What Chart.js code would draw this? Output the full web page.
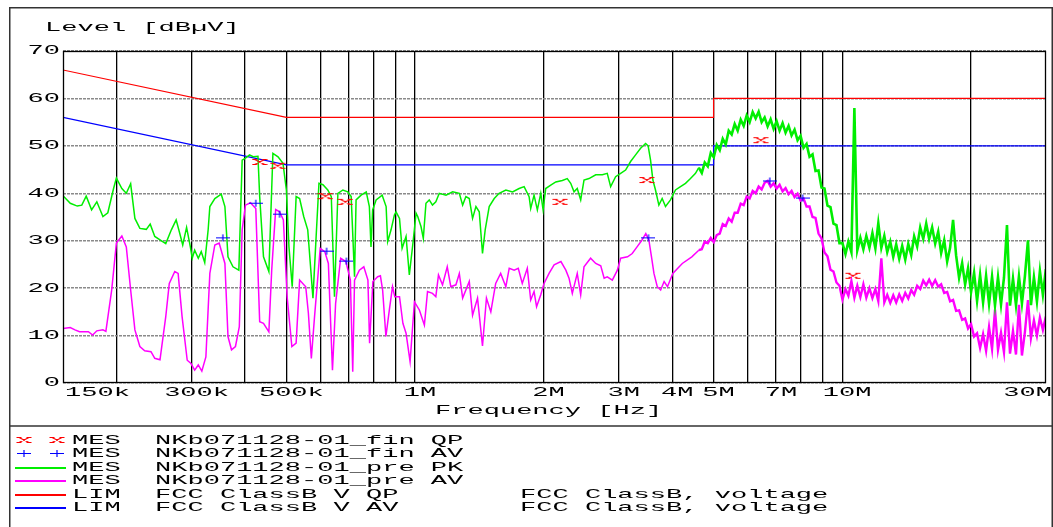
<!DOCTYPE html>
<html><head><meta charset="utf-8">
<script src="https://cdn.jsdelivr.net/npm/chart.js@4.4.1/dist/chart.umd.min.js"></script>
<style>html,body{margin:0;padding:0;background:#fff;}canvas{display:block;}</style>
</head><body>
<canvas id="c" width="1053" height="527"></canvas>
<script>
// ---------- DATA (frequency in MHz, level in dBµV) ----------
const yTicks = [0, 10, 20, 30, 40, 50, 60, 70];
const xGridValues = [0.2,0.3,0.4,0.5,0.6,0.7,0.8,0.9,1,2,3,4,5,6,7,8,9,10,20];
const xTickValues = [0.15, 0.3, 0.5, 1, 2, 3, 4, 5, 7, 10, 30];
const xTickLabels = ['150k','300k','500k','1M','2M','3M','4M','5M','7M','10M','30M'];

// Peak (pre PK) scan, low range
const pkFreqLo = [0.150,0.156,0.162,0.166,0.170,0.175,0.180,0.186,0.191,0.197,
0.200,0.206,0.211,0.216,0.221,0.227,0.235,0.240,0.246,0.253,
0.261,0.269,0.276,0.280,0.286,0.292,0.298,0.301,0.305,0.311,
0.316,0.322,0.328,0.331,0.340,0.352,0.359,0.365,0.375,0.387,
0.394,0.401,0.410,0.418,0.429,0.433,0.442,0.455,0.465,0.478,
0.491,0.500,0.507,0.516,0.527,0.537,0.549,0.561,0.577,0.587,
0.596,0.609,0.625,0.637,0.648,0.660,0.678,0.696,0.709,0.722,
0.728,0.748,0.769,0.782,0.789,0.796,0.811,0.838,0.856,0.863,
0.879,0.895,0.903,0.920,0.933,0.953,0.970,0.988,1.006,1.015,
1.033,1.046,1.061,1.080,1.099,1.119,1.140,1.182,1.225,1.270,
1.293,1.316,1.340,1.364,1.389,1.414,1.439,1.460,1.492,1.533,
1.574,1.632,1.692,1.753,1.801,1.850,1.866,1.900,1.934,1.970,
1.995,2.023,2.079,2.136,2.213,2.272,2.315,2.357,2.398,2.443,
2.487,2.555,2.649,2.745,2.819,2.871,2.949,3.030,3.112,3.197,
3.284,3.374,3.466,3.514,3.560,3.605,3.656,3.723,3.790,3.859,
3.964,4.072,4.184,4.298,4.415,4.536];
const pkLevelLo = [39.5,37.9,37.3,37.5,39.4,36.5,38.2,35.1,35.9,41.0,
43.2,41.0,40.0,42.0,34.7,32.6,32.4,33.5,30.9,30.2,
29.4,32.3,34.4,32.3,29.1,32.8,28.7,26.3,28.0,26.3,
27.7,25.4,32.3,37.2,38.9,39.8,37.2,26.6,24.5,23.8,
47.0,47.4,48.1,47.7,47.8,39.3,26.6,23.5,48.4,47.7,
46.3,40.7,28.7,20.3,39.3,38.9,35.1,32.3,17.9,30.9,
42.1,41.8,40.7,39.3,18.2,40.0,40.7,40.3,39.3,22.4,
38.6,39.6,40.3,37.2,28.7,36.5,38.6,39.6,37.2,29.8,
32.3,35.4,36.1,34.7,28.4,30.9,22.8,29.1,35.8,35.1,
33.0,30.5,37.9,38.6,37.5,38.2,40.0,39.6,40.3,40.0,
37.5,39.3,38.9,34.7,37.2,36.1,27.3,32.3,37.2,38.9,
40.0,40.7,40.3,41.0,41.4,39.3,36.8,39.6,36.5,40.0,
36.5,41.0,41.7,42.4,42.7,43.1,42.1,40.3,41.0,38.6,
42.8,43.1,43.9,43.9,44.2,41.4,43.5,44.2,44.9,46.7,
48.1,49.5,50.5,50.0,47.0,42.8,40.7,37.5,38.9,37.2,
38.6,40.7,41.4,42.1,43.1,44.2];

// Average (pre AV) scan, low range
const avFreqLo = [0.150,0.156,0.160,0.164,0.172,0.176,0.180,0.186,0.189,0.195,
0.200,0.206,0.211,0.216,0.221,0.227,0.233,0.241,0.246,0.253,
0.261,0.266,0.274,0.279,0.285,0.293,0.299,0.305,0.311,0.317,
0.324,0.331,0.340,0.348,0.359,0.365,0.372,0.380,0.388,0.394,
0.401,0.412,0.424,0.433,0.442,0.455,0.462,0.472,0.482,0.492,
0.502,0.515,0.527,0.537,0.555,0.563,0.572,0.582,0.600,0.615,
0.627,0.641,0.652,0.670,0.689,0.706,0.715,0.722,0.741,0.759,
0.776,0.783,0.797,0.818,0.830,0.840,0.855,0.871,0.886,0.897,
0.920,0.937,0.953,0.974,0.997,1.024,1.052,1.070,1.099,1.119,
1.135,1.160,1.190,1.213,1.247,1.270,1.293,1.340,1.364,1.401,
1.439,1.470,1.505,1.545,1.587,1.632,1.662,1.707,1.745,1.783,
1.832,1.866,1.900,1.926,1.970,2.005,2.060,2.117,2.196,2.255,
2.294,2.335,2.398,2.443,2.487,2.577,2.649,2.722,2.772,2.819,
2.897,2.977,3.030,3.145,3.225,3.310,3.397,3.470,3.528,3.578,
3.626,3.691,3.759,3.830,3.900,4.014,4.224,4.447];
const avLevelLo = [11.5,11.7,11.2,10.8,10.8,10.1,11.0,11.2,10.9,19.6,
29.5,31.0,28.7,19.6,11.2,7.7,6.8,6.6,5.2,4.9,
14.0,21.0,23.5,23.1,14.0,4.8,4.1,2.7,3.8,2.5,
5.5,23.1,29.1,29.5,25.2,9.8,7.0,7.7,11.9,32.3,
37.5,38.0,36.8,12.9,12.6,10.8,23.8,36.6,36.1,34.4,
18.2,7.7,8.4,21.7,20.3,14.7,5.2,14.0,28.4,27.7,
25.2,2.7,16.8,26.3,25.6,21.7,2.4,21.7,23.8,24.5,
21.7,8.4,21.4,22.4,22.6,19.6,9.8,15.4,20.3,18.2,
18.2,12.6,10.5,4.5,17.1,15.4,12.2,19.3,18.9,18.2,
22.8,20.7,24.5,20.3,20.7,23.1,17.9,21.4,14.3,17.9,
7.8,17.9,15.0,21.0,23.1,20.3,24.2,23.8,24.2,21.0,
24.2,17.5,19.3,16.1,18.6,21.0,23.1,24.9,25.6,23.8,
22.1,18.9,23.1,18.6,24.5,26.3,25.2,24.7,22.1,22.4,
21.7,23.8,26.3,26.6,27.3,28.7,30.1,31.5,30.1,26.6,
23.1,20.3,19.6,21.4,20.3,23.1,25.2,26.6];

// Shared dense scan frequencies, high range
const scanFreqHi = [4.617,4.692,4.768,4.846,4.925,5.005,5.086,5.169,5.253,5.338,
5.425,5.513,5.603,5.694,5.787,5.881,5.977,6.074,6.173,6.273,
6.375,6.479,6.584,6.691,6.800,6.911,7.023,7.137,7.253,7.371,
7.491,7.613,7.737,7.863,7.991,8.121,8.253,8.387,8.523,8.662,
8.803,8.946,9.091,9.239,9.389,9.542,9.697,9.855,10.015,10.18,
10.34,10.51,10.68,10.85,11.03,11.21,11.39,11.58,11.77,11.96,
12.15,12.35,12.55,12.75,12.96,13.17,13.38,13.60,13.82,14.05,
14.28,14.51,14.74,14.98,15.23,15.48,15.73,15.98,16.24,16.51,
16.78,17.05,17.33,17.61,17.89,18.18,18.48,18.78,19.09,19.40,
19.71,20.03,20.36,20.69,21.03,21.37,21.72,22.07,22.43,22.79,
23.16,23.54,23.92,24.31,24.71,25.11,25.52,25.93,26.35,26.78,
27.22,27.66,28.11,28.57,29.03,29.50,29.98];
const pkLevelHi = [45.4,44.3,46.5,45.7,48.5,47.6,50.2,49.1,51.5,50.3,
53.2,52.4,54.6,53.2,55.5,54.2,56.4,55.0,57.1,55.8,
57.2,55.0,56.0,54.1,55.6,53.6,55.2,53.2,54.8,52.8,
54.2,52.2,53.4,51.2,52.1,49.6,50.4,47.7,48.2,44.7,
44.8,41.2,41.0,37.4,37.1,33.6,33.3,29.5,29.5,27.2,
29.8,27.6,58.0,28.0,30.6,28.2,31.0,28.5,31.6,28.4,
33.7,28.5,31.0,27.6,29.8,26.6,29.2,26.2,28.9,26.0,
29.3,27.0,30.9,28.8,32.8,30.4,33.6,30.4,32.8,29.4,
31.9,27.4,30.1,25.6,28.5,34.4,26.9,22.2,25.3,20.8,
24.2,19.2,23.2,17.3,22.8,17.0,22.6,16.7,22.4,16.4,
22.3,16.6,22.2,33.3,16.3,22.0,16.4,22.5,16.8,22.6,
30.1,16.4,22.3,17.2,23.6,18.6,24.0];
const avLevelHi = [28.0,28.2,29.8,29.5,30.6,29.7,31.2,31.5,33.5,33.1,
34.7,34.0,35.9,35.9,37.8,37.5,39.3,38.9,40.5,40.0,
41.4,40.8,42.2,42.6,41.4,42.1,41.0,41.8,40.4,41.1,
39.8,40.5,39.2,39.9,38.5,38.9,37.2,37.2,35.0,34.8,
31.5,30.5,27.5,26.7,23.9,23.5,21.2,20.5,17.6,19.8,
18.4,21.5,18.0,20.5,18.1,20.8,18.0,20.0,17.9,19.8,
17.3,26.3,17.0,18.6,16.9,18.5,17.0,18.7,17.3,19.0,
17.8,19.6,18.6,20.5,19.8,21.6,20.6,21.8,20.5,21.7,
20.3,20.8,19.0,19.2,17.2,17.5,15.2,15.3,13.3,13.6,
11.5,12.4,9.8,10.5,7.4,10.3,6.8,11.8,7.2,15.5,
7.0,10.6,6.5,17.0,6.2,11.0,6.0,16.5,5.8,10.8,
17.5,9.5,13.2,10.0,13.8,11.2,14.0];

// Final measurements
const qpFreq  = [0.433, 0.477, 0.617, 0.687, 2.186, 3.49, 6.45, 10.6];
const qpLevel = [46.6, 45.8, 39.4, 38.2, 38.2, 42.8, 51.2, 22.6];
const avmFreq  = [0.355, 0.424, 0.482, 0.621, 0.691, 3.52, 6.77, 8.08];
const avmLevel = [30.6, 37.9, 35.6, 27.8, 25.7, 30.6, 42.6, 39.0];

// Limits
const limQpFreq  = [0.15, 0.5, 5, 5, 30];
const limQpLevel = [66, 56, 56, 60, 60];
const limAvFreq  = [0.15, 0.5, 5, 5, 30];
const limAvLevel = [56, 46, 46, 50, 50];

// Legend text
const legendTags  = ['MES','MES','MES','MES','LIM','LIM'];
const legendNames = ['NKb071128-01_fin QP','NKb071128-01_fin AV','NKb071128-01_pre PK','NKb071128-01_pre AV','FCC ClassB V QP','FCC ClassB V AV'];
const legendDesc  = ['','','','','FCC ClassB, voltage','FCC ClassB, voltage'];

// ---------- helpers ----------
const pts = (xs, ys) => xs.map((x, i) => ({x: x, y: ys[i]}));
const RED = '#ff0000', BLUE = '#0000ff', GREEN = '#00ee00', MAGENTA = '#ff00ff';
const DENSE_FROM = 4.6; // MHz: dense-scan part is drawn with a heavier pen

function makeQpImg() {
  const c = document.createElement('canvas'); c.width = 16; c.height = 8;
  const g = c.getContext('2d'); g.strokeStyle = RED; g.lineWidth = 1.1;
  g.beginPath();
  g.moveTo(3, 1.5); g.lineTo(13, 6.5); g.moveTo(3, 6.5); g.lineTo(13, 1.5);
  g.moveTo(0.5, 1.5); g.lineTo(5.5, 1.5); g.moveTo(10.5, 1.5); g.lineTo(15.5, 1.5);
  g.moveTo(0.5, 6.5); g.lineTo(5.5, 6.5); g.moveTo(10.5, 6.5); g.lineTo(15.5, 6.5);
  g.stroke(); return c;
}
function makeAvImg() {
  const c = document.createElement('canvas'); c.width = 14; c.height = 9;
  const g = c.getContext('2d'); g.strokeStyle = BLUE; g.lineWidth = 1.2;
  g.beginPath(); g.moveTo(0, 4.5); g.lineTo(14, 4.5); g.moveTo(7, 1); g.lineTo(7, 8); g.stroke();
  return c;
}
const qpImg = makeQpImg(), avImg = makeAvImg();

const SX = 2.08;
const FONT = '13px "Liberation Mono", "DejaVu Sans Mono", monospace';
function stretchText(ctx, s, x, y, align) {
  ctx.save();
  ctx.font = FONT; ctx.textBaseline = 'middle'; ctx.textAlign = 'left'; ctx.fillStyle = '#000';
  const w = ctx.measureText(s).width * SX;
  const x0 = align === 'right' ? x - w : align === 'center' ? x - w / 2 : x;
  ctx.translate(x0, y); ctx.scale(SX, 1); ctx.fillText(s, 0, 0);
  ctx.restore();
  return w;
}
function textWidth(ctx, s) { ctx.save(); ctx.font = FONT; const w = ctx.measureText(s).width * SX; ctx.restore(); return w; }

const decor = {
  id: 'decor',
  afterDatasetsDraw(chart) {
    const ctx = chart.ctx, a = chart.chartArea;
    ctx.save();
    ctx.strokeStyle = '#000'; ctx.lineWidth = 1.3;
    ctx.strokeRect(a.left + 0.5, a.top + 0.5, a.right - a.left - 1, a.bottom - a.top - 1);
    ctx.restore();
  },
  afterDraw(chart) {
    const ctx = chart.ctx, xs = chart.scales.x, ys = chart.scales.y;
    ctx.save();
    ctx.strokeStyle = '#333'; ctx.lineWidth = 1.5;
    ctx.strokeRect(9.75, 7.75, 1042.5, 600);
    ctx.beginPath(); ctx.moveTo(10, 426); ctx.lineTo(1052, 426); ctx.stroke();
    ctx.restore();
    stretchText(ctx, 'Level [dBµV]', 45, 28, 'left');
    yTicks.forEach(v => stretchText(ctx, String(v), 60, ys.getPixelForValue(v), 'right'));
    xTickValues.forEach((v, i) => {
      const s = xTickLabels[i];
      const w = textWidth(ctx, s);
      let left = xs.getPixelForValue(v) + 5 - w / 2;
      left = Math.max(65, Math.min(left, 1052 - w));
      stretchText(ctx, s, left, 393, 'left');
    });
    stretchText(ctx, 'Frequency [Hz]', 435, 411, 'left');
    const colors = [RED, BLUE, GREEN, MAGENTA, RED, BLUE];
    legendTags.forEach((tag, i) => {
      const y = Math.round(440 + i * 13.4) + 0.5;
      if (i === 0) { ctx.drawImage(qpImg, 16, y - 4.5); ctx.drawImage(qpImg, 49, y - 4.5); }
      else if (i === 1) { ctx.drawImage(avImg, 17, y - 4.5); ctx.drawImage(avImg, 50, y - 4.5); }
      else {
        ctx.save(); ctx.strokeStyle = colors[i]; ctx.lineWidth = 2;
        ctx.beginPath(); ctx.moveTo(15, y + 0.5); ctx.lineTo(66, y + 0.5); ctx.stroke(); ctx.restore();
      }
      stretchText(ctx, tag, 72, y, 'left');
      stretchText(ctx, legendNames[i], 155, y, 'left');
      if (legendDesc[i]) stretchText(ctx, legendDesc[i], 520, y, 'left');
    });
  }
};

const denseWidth = (thin, thick) => (c) => (c.p0.parsed.x >= DENSE_FROM ? thick : thin);

new Chart(document.getElementById('c'), {
  type: 'line',
  data: {
    datasets: [
      { label: legendNames[0], data: pts(qpFreq, qpLevel), showLine: false, pointStyle: qpImg, pointRadius: 6, order: 0 },
      { label: legendNames[1], data: pts(avmFreq, avmLevel), showLine: false, pointStyle: avImg, pointRadius: 6, order: 1 },
      { label: legendNames[2], data: pts(pkFreqLo.concat(scanFreqHi), pkLevelLo.concat(pkLevelHi)), borderColor: GREEN, borderWidth: 1.5, pointRadius: 0, tension: 0, order: 2,
        segment: { borderWidth: denseWidth(1.5, 2.6) } },
      { label: legendNames[3], data: pts(avFreqLo.concat(scanFreqHi), avLevelLo.concat(avLevelHi)), borderColor: MAGENTA, borderWidth: 1.5, pointRadius: 0, tension: 0, order: 3,
        segment: { borderWidth: denseWidth(1.5, 2.4) } },
      { label: legendNames[4], data: pts(limQpFreq, limQpLevel), borderColor: RED, borderWidth: 1.2, pointRadius: 0, tension: 0, order: 4 },
      { label: legendNames[5], data: pts(limAvFreq, limAvLevel), borderColor: BLUE, borderWidth: 1.2, pointRadius: 0, tension: 0, order: 5 }
    ]
  },
  options: {
    responsive: false,
    devicePixelRatio: 1,
    animation: false,
    events: [],
    layout: { padding: { left: 63, top: 51, right: 4, bottom: 144 } },
    plugins: { legend: { display: false }, tooltip: { enabled: false } },
    scales: {
      x: {
        type: 'logarithmic', min: 0.15, max: 30,
        afterBuildTicks: (s) => { s.ticks = xGridValues.map(v => ({ value: v })); },
        ticks: { display: false },
        grid: { color: '#000', lineWidth: 1.3, drawTicks: false },
        border: { display: false }
      },
      y: {
        type: 'linear', min: 0, max: 70,
        afterBuildTicks: (s) => { s.ticks = yTicks.map(v => ({ value: v })); },
        ticks: { display: false },
        grid: { color: '#8a8a8a', lineWidth: 1.5, drawTicks: false },
        border: { display: false, dash: [3, 1] }
      }
    }
  },
  plugins: [decor]
});
</script>
</body></html>
